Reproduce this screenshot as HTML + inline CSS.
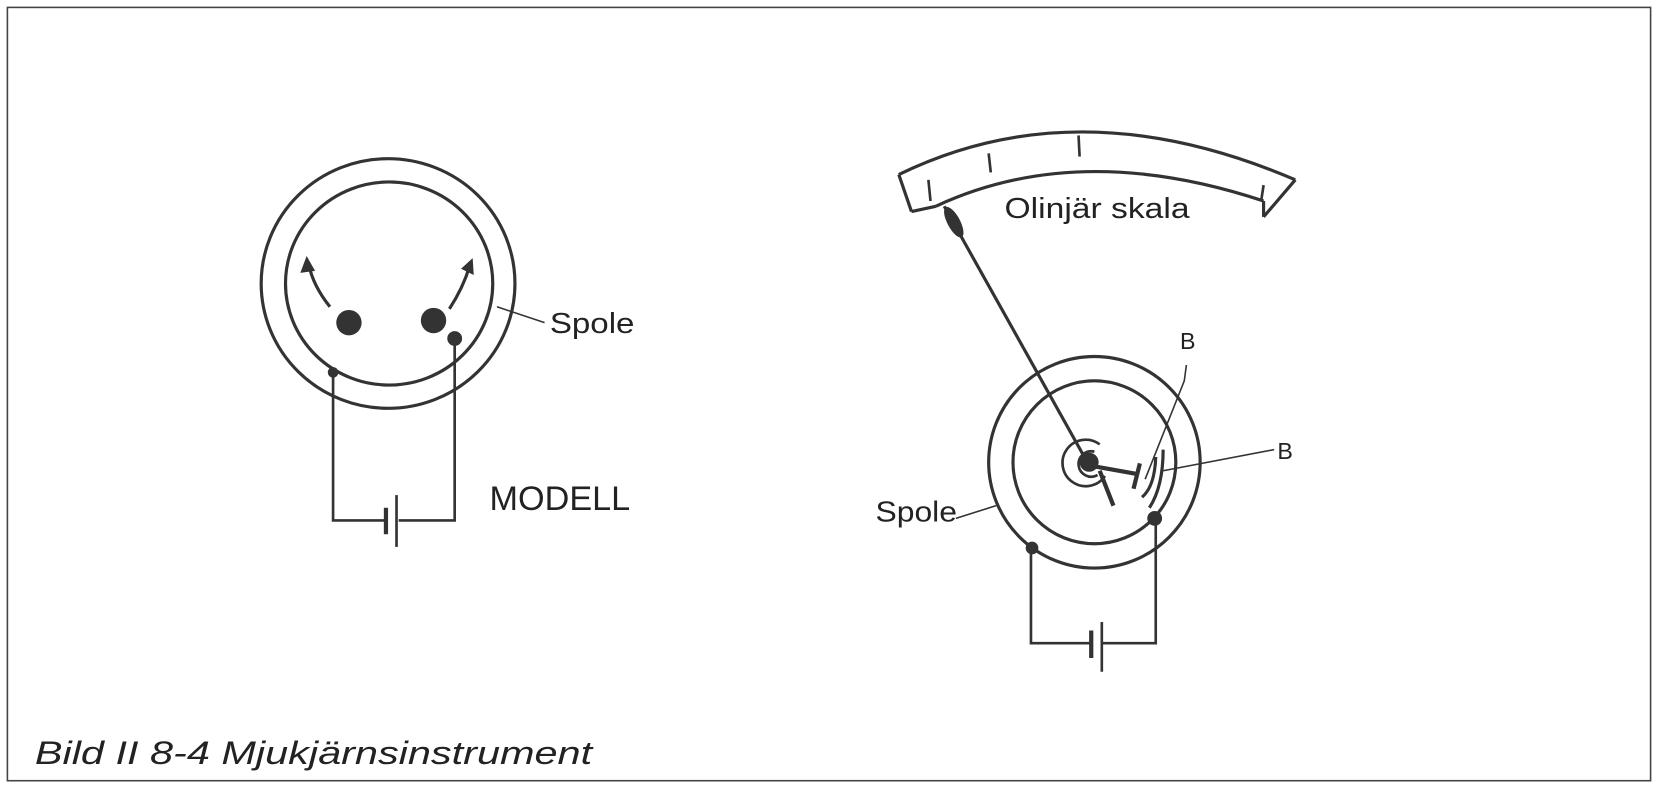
<!DOCTYPE html>
<html><head><meta charset="utf-8"><style>
html,body{margin:0;padding:0;background:#fff;}
svg{display:block;}
text{font-family:"Liberation Sans",sans-serif;fill:#222;}
</style></head><body>
<svg width="1658" height="786" viewBox="0 0 1568 743" preserveAspectRatio="none">
<rect x="7" y="7" width="1554" height="731" fill="none" stroke="#444" stroke-width="1.5"/>
<g fill="none" stroke="#333" stroke-width="3">
<ellipse cx="367" cy="268" rx="120" ry="118"/>
<ellipse cx="368" cy="268" rx="98" ry="96"/>
<path d="M312 290 Q296 270 292 250"/>
<path d="M425 292 Q438 272 444 252"/>
<path d="M315 352 V492 H365 M377 492 H430 V320" stroke-width="2.5"/>
<path d="M470 290 L515 305" stroke-width="1.5"/>
<line x1="365" y1="480" x2="365" y2="505" stroke-width="4"/>
<line x1="375" y1="468" x2="375" y2="517" stroke-width="2.5"/>
<path d="M850 165 Q1020 82 1225 170"/>
<path d="M885 195 Q1020 132 1195 190"/>
<path d="M850 165 L862 200 M1225 170 L1195 205 M862 200 L885 195 M1195 205 L1195 190"/>
<path d="M878 170 L880 190 M935 145 L937 163 M1020 128 L1021 148 M1195 175 L1193 188" stroke-width="2.5"/>
<line x1="893" y1="195" x2="1030" y2="440" stroke-width="3"/>
<circle cx="1035" cy="437" r="100"/>
<circle cx="1035" cy="437" r="77"/>
<path d="M1040 420 A22 22 0 1 0 1045 450" stroke-width="2.5"/>
<path d="M1035 427 A12 12 0 1 0 1038 449" stroke-width="2.5"/>
<path d="M1030 440 L1075 448 M1078 438 L1072 462 M1040 445 L1053 478" stroke-width="4"/>
<path d="M1093 432 Q1092 460 1080 470 M1100 425 Q1100 460 1087 480" stroke-width="3"/>
<path d="M1083 453 L1120 360 L1122 345 M1100 445 L1205 425 M904 490 L942 478" stroke-width="1.5"/>
<path d="M975 520 V608 H1032 M1042 608 H1093 V490" stroke-width="2.5"/>
<line x1="1032" y1="596" x2="1032" y2="622" stroke-width="4"/>
<line x1="1042" y1="588" x2="1042" y2="635" stroke-width="2.5"/>
</g>
<g fill="#333">
<circle cx="330" cy="305" r="12"/><circle cx="410" cy="303" r="12"/>
<circle cx="315" cy="352" r="5"/><circle cx="430" cy="320" r="7"/>
<path d="M290 242 L284 258 L298 256 Z"/><path d="M447 244 L436 254 L448 260 Z"/>
<ellipse cx="902" cy="210" rx="6" ry="16" transform="rotate(-28 902 210)"/>
<circle cx="1030" cy="437" r="9"/>
<circle cx="976" cy="518" r="6"/><circle cx="1092" cy="490" r="7"/>
</g>
<text x="520" y="315" font-size="27" textLength="80" lengthAdjust="spacingAndGlyphs">Spole</text>
<text x="463" y="482" font-size="32" textLength="133" lengthAdjust="spacingAndGlyphs">MODELL</text>
<text x="950" y="206" font-size="27" textLength="175" lengthAdjust="spacingAndGlyphs">Olinjär skala</text>
<text x="1116" y="330" font-size="22">B</text>
<text x="1208" y="434" font-size="22">B</text>
<text x="828" y="493" font-size="27" textLength="77" lengthAdjust="spacingAndGlyphs">Spole</text>
<text x="33" y="722" font-size="31" font-style="italic" textLength="527" lengthAdjust="spacingAndGlyphs">Bild II 8-4 Mjukjärnsinstrument</text>
</svg>
</body></html>
